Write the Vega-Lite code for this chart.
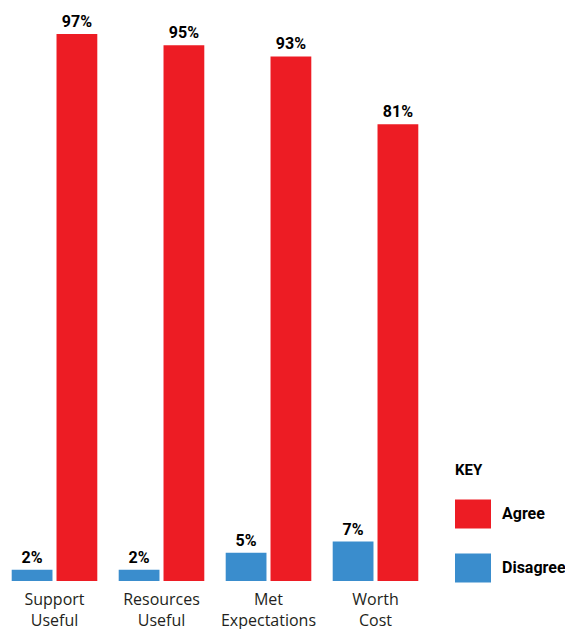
{
  "$schema": "https://vega.github.io/schema/vega-lite/v6.json",
  "autosize": "none",
  "width": 428,
  "height": 564,
  "padding": {"left": 1, "top": 17, "right": 136, "bottom": 48},
  "background": "white",
  "config": {"view": {"stroke": null}, "font": "Open Sans"},
  "data": {"values": [
    {"q": "Support Useful", "resp": "Agree", "v": 0.97},
    {"q": "Support Useful", "resp": "Disagree", "v": 0.02},
    {"q": "Resources Useful", "resp": "Agree", "v": 0.95},
    {"q": "Resources Useful", "resp": "Disagree", "v": 0.02},
    {"q": "Met Expectations", "resp": "Agree", "v": 0.93},
    {"q": "Met Expectations", "resp": "Disagree", "v": 0.05},
    {"q": "Worth Cost", "resp": "Agree", "v": 0.81},
    {"q": "Worth Cost", "resp": "Disagree", "v": 0.07}
  ]},
  "encoding": {
    "x": {"field": "q", "type": "nominal", "sort": null,
      "scale": {"paddingInner": 0.2, "paddingOuter": 0.1},
      "axis": {"title": null, "domain": false, "ticks": false, "labelAngle": 0,
        "labelExpr": "split(datum.label, ' ')", "labelFontSize": 16, "labelColor": "#231F20",
        "labelLineHeight": 21, "labelPadding": 10, "labelFont": "Open Sans", "labelBaseline": "top"}},
    "xOffset": {"field": "resp", "type": "nominal", "sort": ["Disagree", "Agree"],
      "scale": {"paddingInner": 0.09}},
    "y": {"field": "v", "type": "quantitative", "scale": {"domain": [0, 1]}, "axis": null}
  },
  "layer": [
    {"mark": {"type": "bar"},
     "encoding": {
       "color": {"field": "resp", "type": "nominal",
         "scale": {"domain": ["Agree", "Disagree"], "range": ["#ED1C24", "#3A8DCD"]},
         "legend": {"orient": "none", "legendX": 454, "legendY": 446, "title": "KEY",
           "titleFont": "Roboto", "titleFontSize": 15, "titleFontWeight": "bold", "titleColor": "#000",
           "titlePadding": 18, "labelFont": "Roboto", "labelFontSize": 16, "labelFontWeight": "bold",
           "labelColor": "#000", "labelOffset": 11,
           "symbolType": "M-1,-0.8H1V0.8H-1Z", "symbolSize": 1296, "symbolStrokeWidth": 0, "symbolOpacity": 1,
           "rowPadding": 21, "padding": 0}}
     }},
    {"mark": {"type": "text", "baseline": "alphabetic", "dy": -7, "fontSize": 16, "fontWeight": "bold",
       "font": "Roboto", "color": "#000"},
     "encoding": {"text": {"field": "v", "type": "quantitative", "format": ".0%"}}}
  ]
}
